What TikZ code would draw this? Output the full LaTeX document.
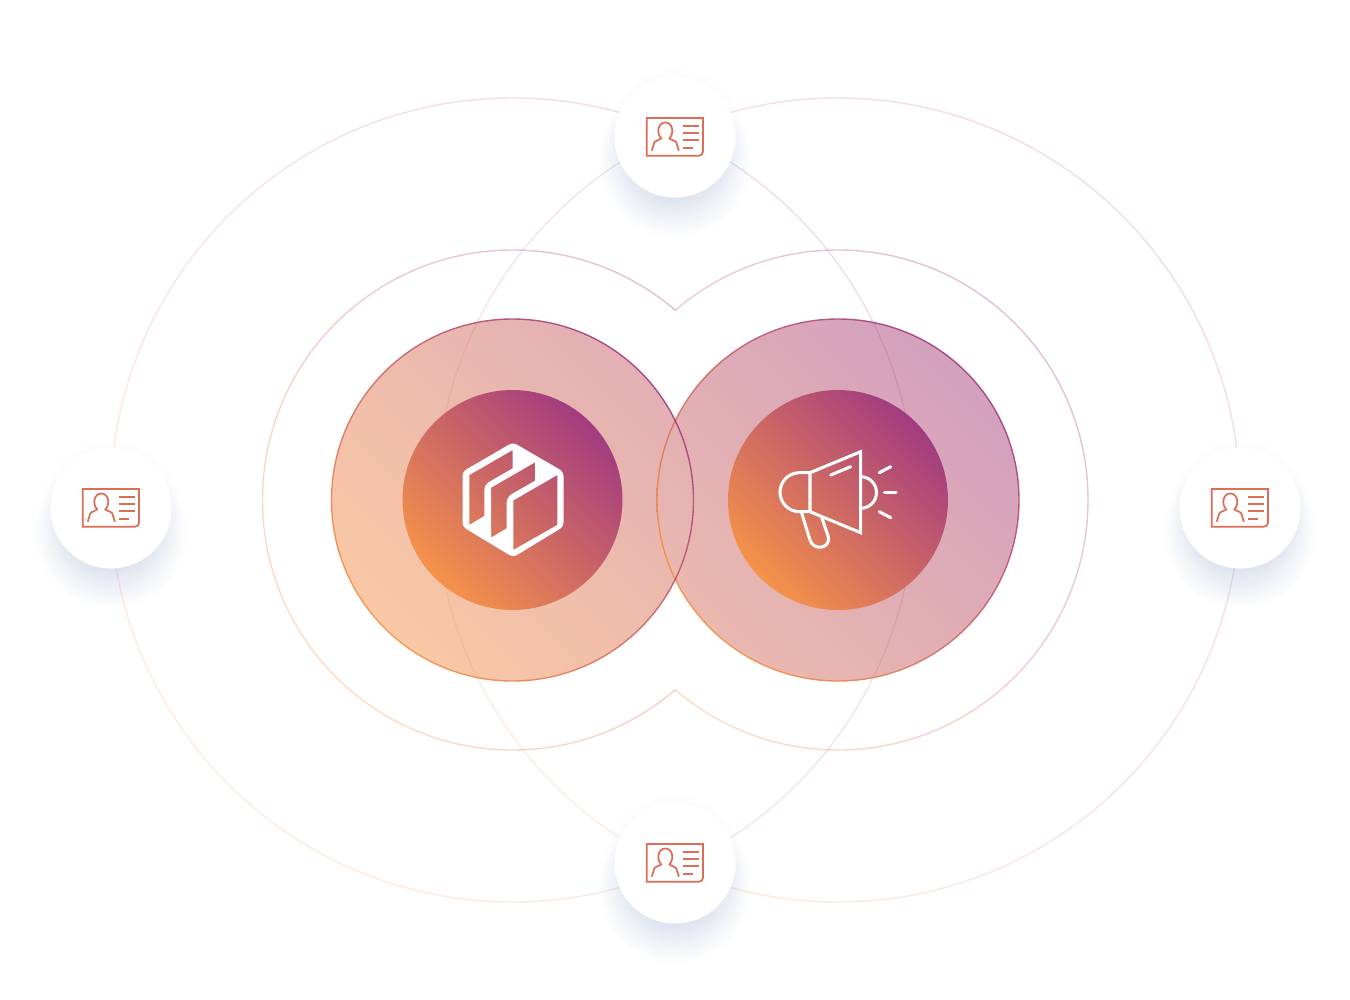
\documentclass[tikz,border=0pt]{standalone}
\usepackage{tikz}
\definecolor{duskorange}{RGB}{245,146,74}
\definecolor{duskpurple}{RGB}{162,60,128}
\definecolor{pairpurple}{RGB}{168,66,125}
\definecolor{cardred}{RGB}{221,109,86}
\definecolor{shadowblue}{RGB}{176,190,214}
\pgfdeclarehorizontalshading{duskcore}{100bp}{color(0bp)=(duskorange); color(25bp)=(duskorange); color(75bp)=(duskpurple); color(100bp)=(duskpurple)}
\pgfdeclarehorizontalshading{duskpair}{100bp}{color(0bp)=(duskorange); color(28.5bp)=(duskorange); color(71.5bp)=(pairpurple); color(100bp)=(pairpurple)}
\newcommand{\duskring}[4]{%
	\begin{scope}[even odd rule]
		\clip (#1,#2) circle[radius=#3+0.7] circle[radius=#3-0.7];
		\shade[shading=duskcore,shading angle=45,opacity=#4] (#1-#3-1,#2-#3-1) rectangle (#1+#3+1,#2+#3+1);
	\end{scope}}
\tikzset{
	coredisc/.style={circle,draw=none,inner sep=0pt,minimum size=165pt,shading=duskcore,shading angle=45},
	carddisc/.style={circle,fill=white,draw=none,inner sep=0pt,minimum size=90.75pt},
	cardline/.style={draw=cardred,line width=1.3pt,line join=miter},
	hornline/.style={draw=white,line width=2.3pt,line cap=round,line join=miter},
	cardicon/.pic={
		\draw[cardline] (-28.3,-19) -- (28,-19) [rounded corners=3pt] -- (28,18.7) [sharp corners] -- (-28.3,18.7) -- cycle;
		\draw[cardline,line join=round] (-23.3,13.7) -- (-20.7,5.5) .. controls (-20,3.5) and (-16,3.5) .. (-13.7,1.5) .. controls (-19,-4) and (-17,-14.5) .. (-9.7,-14.5) .. controls (-2.4,-14.5) and (-0.4,-4) .. (-5.7,1.5) .. controls (-3.4,3.5) and (0.6,3.5) .. (1.3,5.5) -- (3.9,13.7);
		\draw[cardline] (7.7,-11) -- (23.7,-11);
		\draw[cardline] (7.7,-3.7) -- (23.7,-3.7);
		\draw[cardline] (7.7,3.3) -- (23.7,3.3);
		\draw[cardline] (7.7,10.7) -- (18.3,10.7);
	}
}

\begin{document}
\begin{tikzpicture}[x=0.75pt,y=0.75pt,yscale=-1,xscale=1]
	\useasboundingbox (0,0) rectangle (1350,1000);

	% Outer rings
	\duskring{512.5}{500}{402}{0.18}
	\duskring{838}{500}{402}{0.18}

	% Middle rings, cut where they meet
	\begin{scope}
		\clip (0,0) rectangle (675.25,1000);
		\duskring{512.5}{500}{250}{0.32}
	\end{scope}
	\begin{scope}
		\clip (675.25,0) rectangle (1350,1000);
		\duskring{838}{500}{250}{0.32}
	\end{scope}

	% Large discs
	\begin{scope}
		\clip (512.5,500) circle[radius=181] (838,500) circle[radius=181];
		\shade[shading=duskpair,shading angle=45,opacity=0.5] (331,156) rectangle (1019,844);
	\end{scope}
	\duskring{838}{500}{181}{0.9}
	\duskring{512.5}{500}{181}{0.9}

	% Core discs
	\node[coredisc] (corecube) at (512.5,500) {};
	\node[coredisc] (corehorn) at (838,500) {};

	% Cube icon
	\fill[white,even odd rule,rounded corners=3pt]
		(512.9,442.3) -- (563.5,471.7) -- (563.5,526.7) -- (513.2,557.3) -- (462.5,526.7) -- (462.5,471.7) -- cycle
		[sharp corners] (469.3,475) -- (512.7,450) -- (512.7,468.3) [rounded corners=4pt] -- (484.3,484.7) [sharp corners] -- (484.3,516) -- (469.3,525) -- cycle
		(491,487.7) -- (535,462.3) -- (535,480.7) [rounded corners=4pt] -- (506.7,497) [sharp corners] -- (506.7,528.3) -- (491,537.7) -- cycle
		(513.3,500.4) -- (557.3,475) -- (557.3,525) -- (513.3,550) -- cycle;

	% Horn icon
	\draw[hornline] (810,472.7) -- (860.7,451.7) -- (860.7,532.7) -- (810,511.7) -- cycle;
	\draw[hornline] (810,472.7) -- (799.5,472.7) arc[start angle=-90,end angle=-270,radius=19.5] -- (810,511.7);
	\draw[hornline] (801.7,513.3) -- (810,540) .. controls (813,551) and (831,549) .. (828.3,536.7) -- (821.7,517.3);
	\draw[hornline] (860.7,476.7) arc[start angle=-90,end angle=90,radius=15.8];
	\draw[hornline] (830.7,475) -- (850.7,466.7);
	\draw[hornline] (879.3,472.7) -- (890.7,466.7);
	\draw[hornline] (884.3,492.3) -- (896,492.3);
	\draw[hornline] (879.3,511.7) -- (890.7,517.7);

	% Card discs, with their shadows
	\foreach \cardname/\cardx/\cardy in {top/675/137,left/111/508,right/1240/508,bottom/675/863}{
		\foreach \shadowr in {40,42,...,76}{
			\fill[shadowblue,opacity=0.022] (\cardx,\cardy+24) circle[radius=\shadowr];
		}
		\foreach \shadowr in {62,64,...,70}{
			\fill[shadowblue,opacity=0.012] (\cardx,\cardy+2) circle[radius=\shadowr];
		}
		\node[carddisc] (card\cardname) at (\cardx,\cardy) {};
		\pic[yscale=-1] at (card\cardname) {cardicon};
	}
\end{tikzpicture}
\end{document}
